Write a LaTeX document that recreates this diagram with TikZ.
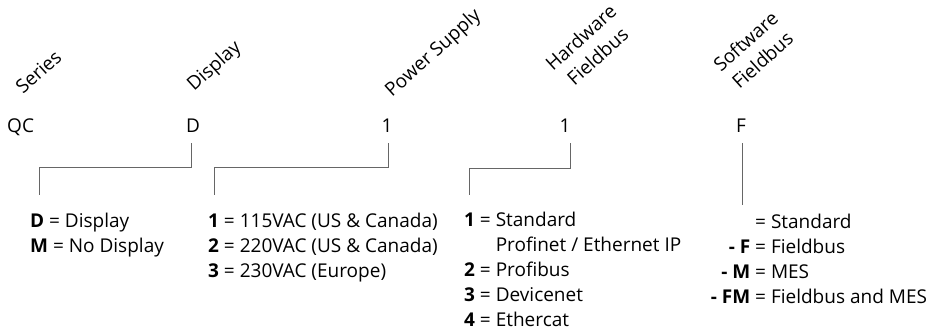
\documentclass[tikz,border=0pt]{standalone}
\usepackage{fontspec}
\setmainfont{Open Sans}
\usetikzlibrary{positioning}

\tikzset{
  heading/.style={rotate=42, anchor=base west, inner sep=0pt},
  code/.style={anchor=base, inner sep=0pt},
  opts/.style={anchor=base west, inner sep=0pt},
  conn/.style={draw=black!60, line width=0.9pt},
}
\newcommand{\optlist}[1]{\begin{tabular}[t]{@{}l@{}}#1\end{tabular}}
\newcommand{\twoline}[2]{\begin{tabular}[t]{@{}c@{}}#1\\#2\end{tabular}}
\newcommand{\dashopt}[1]{\makebox[0pt][r]{\textbf{#1}\ }}

\begin{document}
\begin{tikzpicture}[x=1pt, y=-1pt, font=\fontsize{19}{25}\selectfont]
    \useasboundingbox (0,0) rectangle (936,334);
    % headings
    \node[heading] (hser) at (23,95) {Series};
    \node[heading] (hdisp) at (194,92) {Display};
    \node[heading] (hpwr) at (392,98) {Power Supply};
    \node[heading] (hhw) at (553,72) {\twoline{Hardware}{Fieldbus}};
    \node[heading] (hsw) at (721,73) {\twoline{Software}{Fieldbus}};
    % codes
    \node[code, anchor=base west] (cser) at (7,132) {QC};
    \node[code] (cdisp) at (193,132) {D};
    \node[code] (cpwr) at (387,132) {1};
    \node[code] (chw) at (565,132) {1};
    \node[code] (csw) at (741,132) {F};
    % options
    \node[opts] (odisp) at (30,227) {\optlist{\textbf{D} = Display\\
      \textbf{M} = No Display}};
    \node[opts] (opwr) at (208,227) {\optlist{\textbf{1} = 115VAC (US \& Canada)\\
      \textbf{2} = 220VAC (US \& Canada)\\
      \textbf{3} = 230VAC (Europe)}};
    \node[opts] (ohw) at (464,226) {\optlist{\textbf{1} = Standard\\
      \hphantom{\textbf{1} = }Profinet / Ethernet IP\\
      \textbf{2} = Profibus\\
      \textbf{3} = Devicenet\\
      \textbf{4} = Ethercat}};
    \node[opts] (osw) at (755,228) {\optlist{= Standard\\
      \dashopt{- F}= Fieldbus\\
      \dashopt{- M}= MES\\
      \dashopt{- FM}= Fieldbus and MES}};
    % connectors
    \draw[conn] ([xshift=-2pt,yshift=-11pt]cdisp.base) |- ([xshift=9pt,yshift=41.5pt]odisp.north west)
      -- ([xshift=9pt,yshift=14.5pt]odisp.north west);
    \draw[conn] ([xshift=1pt,yshift=-11pt]cpwr.base) |- ([xshift=6pt,yshift=41.5pt]opwr.north west)
      -- ([xshift=6pt,yshift=14.5pt]opwr.north west);
    \draw[conn] ([xshift=5pt,yshift=-11pt]chw.base) |- ([xshift=5pt,yshift=39.5pt]ohw.north west)
      -- ([xshift=5pt,yshift=13.5pt]ohw.north west);
    \draw[conn] ([xshift=1pt,yshift=-11pt]csw.base) -- ([xshift=-13pt,yshift=5.5pt]osw.north west);
  \end{tikzpicture}
\end{document}
